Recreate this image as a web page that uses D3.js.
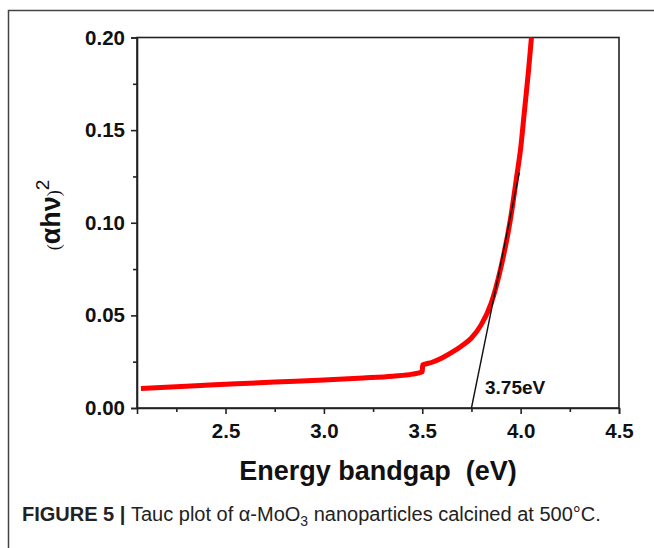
<!DOCTYPE html>
<html><head><meta charset="utf-8">
<script src="https://cdn.jsdelivr.net/npm/d3@7"></script>
<style>body{margin:0;background:#fff}svg{display:block}</style>
</head><body>
<script>
const energy = [2.07, 2.3, 2.5, 2.75, 3.0, 3.2, 3.35, 3.45, 3.5, 3.502, 3.55, 3.6, 3.65, 3.7, 3.75, 3.8, 3.85, 3.9, 3.95, 3.98, 4.0, 4.02, 4.04, 4.055];
const tauc   = [0.0105, 0.0118, 0.0128, 0.0140, 0.0151, 0.0162, 0.0172, 0.0183, 0.0196, 0.0232, 0.0247, 0.0270, 0.0300, 0.0335, 0.0378, 0.0450, 0.0565, 0.0760, 0.1030, 0.1250, 0.1400, 0.1610, 0.1820, 0.2000];
const tangentX = [3.75, 3.993];
const tangentY = [0.0, 0.127];
const xTicks = [2.5, 3.0, 3.5, 4.0, 4.5];
const xMinor = [2.25, 2.75, 3.25, 3.75, 4.25];
const yTicks = [0.00, 0.05, 0.10, 0.15, 0.20];
const yMinor = [0.025, 0.075, 0.125, 0.175];

const W = 654, H = 548;
const svg = d3.select("body").append("svg").attr("width", W).attr("height", H);
svg.append("rect").attr("width", W).attr("height", H).attr("fill", "#fff");
// outer frame
svg.append("path").attr("d", `M8.5,${H} V10.5 H${W}`).attr("fill", "none").attr("stroke", "#444").attr("stroke-width", 1.5);

const L = 137, R = 619, T = 37.5, B = 408;
const x = d3.scaleLinear().domain([2.05, 4.5]).range([L, R]);
const y = d3.scaleLinear().domain([0, 0.2]).range([B, T]);

const font = "'Liberation Sans', Arial, sans-serif";
svg.append("rect").attr("x", L).attr("y", T).attr("width", R - L).attr("height", B - T)
  .attr("fill", "none").attr("stroke", "#222").attr("stroke-width", 1.6);

svg.append("g").attr("transform", `translate(0,${B})`)
  .call(d3.axisBottom(x).tickValues(xTicks).tickFormat(d3.format(".1f")).tickSize(6).tickPadding(9));
svg.append("g").attr("transform", `translate(0,${B})`)
  .call(d3.axisBottom(x).tickValues(xMinor).tickFormat("").tickSize(4))
  .call(g => g.select(".domain").remove());
svg.append("g").attr("transform", `translate(${L},0)`)
  .call(d3.axisLeft(y).tickValues(yTicks).tickFormat(d3.format(".2f")).tickSize(6).tickPadding(6));
svg.append("g").attr("transform", `translate(${L},0)`)
  .call(d3.axisLeft(y).tickValues(yMinor).tickFormat("").tickSize(4))
  .call(g => g.select(".domain").remove());
svg.selectAll(".tick line").attr("stroke", "#222").attr("stroke-width", 1.6);
svg.selectAll(".domain").attr("stroke", "#222").attr("stroke-width", 1.6);
svg.selectAll(".tick text").attr("font-family", font).attr("font-weight", "bold")
  .attr("font-size", 20.5).attr("fill", "#111");

const pts = energy.map((e, i) => [e, tauc[i]]);
svg.append("path").datum(pts)
  .attr("d", d3.line().x(d => x(d[0])).y(d => y(d[1])).curve(d3.curveMonotoneX))
  .attr("fill", "none").attr("stroke", "#ff0000").attr("stroke-width", 5).attr("stroke-linejoin", "round");

svg.append("line").attr("x1", x(tangentX[0])).attr("y1", y(tangentY[0]))
  .attr("x2", x(tangentX[1])).attr("y2", y(tangentY[1]))
  .attr("stroke", "#111").attr("stroke-width", 1.4);

svg.append("text").attr("x", 485).attr("y", 394).attr("font-family", font).attr("font-weight", "bold")
  .attr("font-size", 19).attr("fill", "#111").text("3.75eV");

svg.append("text").attr("x", 378).attr("y", 480).attr("text-anchor", "middle")
  .attr("font-family", font).attr("font-weight", "bold").attr("font-size", 27).attr("fill", "#111")
  .style("white-space", "pre").text("Energy bandgap  (eV)");

const yl = svg.append("text").attr("transform", "translate(60,215) rotate(-90)").attr("text-anchor", "middle")
  .attr("font-family", font).attr("font-weight", "bold").attr("font-size", 27).attr("fill", "#111");
yl.append("tspan").attr("font-family", "'Liberation Serif', serif").attr("font-weight", "normal").attr("font-size", 18).text("(");
yl.append("tspan").text("αhν");
yl.append("tspan").attr("font-family", "'Liberation Serif', serif").attr("font-weight", "normal").attr("font-size", 18).text(")");
yl.append("tspan").attr("dy", -11).attr("font-size", 19).attr("font-weight", "normal").text("2");

const cap = svg.append("text").attr("x", 22).attr("y", 521).attr("font-family", font)
  .attr("font-size", 20).attr("fill", "#222");
cap.append("tspan").attr("font-weight", "bold").text("FIGURE 5 | ");
cap.append("tspan").text("Tauc plot of α-MoO");
cap.append("tspan").attr("font-size", 14).attr("dy", 5).text("3");
cap.append("tspan").attr("dy", -5).text(" nanoparticles calcined at 500°C.");
</script>
</body></html>
